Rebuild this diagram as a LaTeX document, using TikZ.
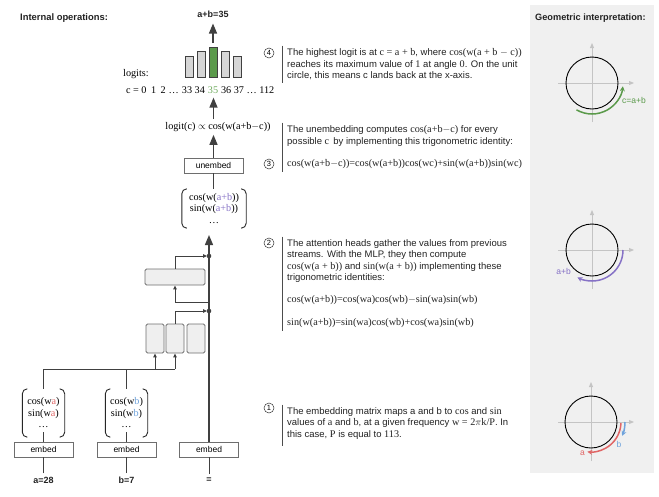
\documentclass[tikz,border=0pt]{standalone}
\usepackage{fontspec}
\setmainfont{Liberation Serif}
\newfontfamily\ls{Liberation Sans}
\usetikzlibrary{arrows.meta}
\definecolor{dk}{HTML}{404040}
\definecolor{boxc}{HTML}{6E6E6E}
\definecolor{boxf}{HTML}{EFEFEF}
\definecolor{barf}{HTML}{D6D6D6}
\definecolor{grn}{HTML}{5B9A4B}
\definecolor{grnt}{HTML}{6DAA5C}
\definecolor{pur}{HTML}{8672C6}
\definecolor{redc}{HTML}{E06666}
\definecolor{blu}{HTML}{6FA3DC}
\definecolor{axc}{HTML}{C4C4C4}
\definecolor{panel}{HTML}{F0F0F0}
\definecolor{txt}{HTML}{222222}
\newcommand\srf{\rmfamily\fontsize{10.2}{11.3}\selectfont}
\tikzset{
 ebox/.style={draw=boxc, line width=0.9pt, fill=white, minimum width=59pt, minimum height=15pt, inner sep=0pt, font=\ls\fontsize{8.5}{10}\selectfont},
 hbox/.style={draw=boxc, fill=boxf, rounded corners=1.5pt, line width=0.9pt, inner sep=0pt},
 thinl/.style={draw=dk, line width=1pt},
 mainl/.style={draw=dk, line width=1.4pt},
 bigarrow/.style={-{Triangle[length=10pt,width=8pt]}},
 smallarrow/.style={-{Triangle[length=4pt,width=3.5pt]}},
 desc/.style={anchor=north west, align=left, inner sep=0pt, font=\ls\fontsize{9.5}{11.3}\selectfont, text=txt},
 ser/.style={font=\fontsize{10.2}{11}\selectfont},
 vec/.style={align=center, inner sep=0pt, font=\fontsize{10.2}{11.5}\selectfont},
 bar/.style={draw=dk, line width=0.9pt, fill=barf, minimum width=8pt, inner sep=0pt, anchor=south},
 circnum/.style={circle, draw=black!80, line width=0.5pt, inner sep=0pt, minimum size=10pt, font=\ls\fontsize{7.5}{8}\selectfont},
 vline/.style={draw=black!70, line width=0.8pt},
 axis/.style={draw=axc, line width=0.9pt, -{Triangle[length=5pt,width=4pt]}},
 brk/.style={draw=black!85, line width=0.9pt, rounded corners=5pt},
 bold/.style={font=\ls\bfseries\fontsize{9}{10}\selectfont, text=txt},
 arcarrow/.style={line width=1.5pt, -{Stealth[length=5pt,width=5pt]}},
}
\newcommand\vbrk[1]{%
 \draw[brk] ([xshift=5pt]#1.north west) -- (#1.north west) -- (#1.south west) -- ([xshift=5pt]#1.south west);
 \draw[brk] ([xshift=-5pt]#1.north east) -- (#1.north east) -- (#1.south east) -- ([xshift=-5pt]#1.south east);}
\begin{document}
\begin{tikzpicture}[x=1pt,y=-1pt]
\useasboundingbox (0,0) rectangle (659,496);
% right panel
\fill[panel] (530,5) rectangle (654,473);
\node[bold, font=\ls\bfseries\fontsize{9.2}{10}\selectfont, anchor=west, inner sep=0pt] (gi) at (535,18) {Geometric interpretation:};
\node[bold, font=\ls\bfseries\fontsize{9.4}{10}\selectfont, anchor=west, inner sep=0pt] (io) at (20,18) {Internal operations:};

% circle 1
\begin{scope}[shift={(592,83)},y=1pt]
 \draw[axis] (-34,0) -- (42,0);
 \draw[axis] (0,-39) -- (0,40);
 \draw[line width=0.9pt, black] (0,0) circle[radius=26];
 \draw[arcarrow, grn] (-120:31) arc[start angle=-120, end angle=-6, radius=31];
 \node[text=grn, font=\ls\fontsize{8.5}{10}\selectfont, anchor=west, inner sep=0pt] (l1) at (30,-17) {c=a+b};
\end{scope}
% circle 2
\begin{scope}[shift={(592,250)},y=1pt]
 \draw[axis] (-34,0) -- (42,0);
 \draw[axis] (0,-39) -- (0,40);
 \draw[line width=0.9pt, black] (0,0) circle[radius=26];
 \draw[arcarrow, pur] (0:31) arc[start angle=0, end angle=-118, radius=31];
 \node[text=pur, font=\ls\fontsize{8.5}{10}\selectfont, anchor=east, inner sep=0pt] (l2) at (-21,-21) {a+b};
\end{scope}
% circle 3
\begin{scope}[shift={(591,422)},y=1pt]
 \draw[axis] (-33,0) -- (43,0);
 \draw[axis] (0,-39) -- (0,40);
 \draw[line width=0.9pt, black] (0,0) circle[radius=26];
 \draw[arcarrow, redc] (-2:30) arc[start angle=-2, end angle=-97, radius=30];
 \draw[arcarrow, blu] (0:34) arc[start angle=0, end angle=-24, radius=34];
 \node[text=redc, font=\ls\fontsize{8.5}{10}\selectfont, anchor=east, inner sep=0pt] (l3) at (-6,-31) {a};
 \node[text=blu, font=\ls\fontsize{8.5}{10}\selectfont, inner sep=0pt] (l4) at (28,-22) {b};
\end{scope}

% embeds and inputs
\node[ebox] (ea) at (43.5,449.5) {embed};
\node[ebox] (eb) at (126.5,449.5) {embed};
\node[ebox] (ee) at (209,449.5) {embed};
\node[bold] (la) at (43.5,480) {a=28};
\node[bold] (lb) at (126.5,480) {b=7};
\node[bold] (le) at (209,480) {=};
\draw[thinl] (la.north) -- (ea.south);
\draw[thinl] (lb.north) -- (eb.south);
\draw[thinl] (le.north) -- (ee.south);

% embedding vectors
\node[vec, minimum width=42pt, minimum height=48pt] (va) at (43.5,413) {cos(w\textcolor{redc}{a})\\sin(w\textcolor{redc}{a})\\\dots};
\node[vec, minimum width=42pt, minimum height=48pt] (vb) at (126.5,413) {cos(w\textcolor{blu}{b})\\sin(w\textcolor{blu}{b})\\\dots};
\vbrk{va}
\vbrk{vb}
\draw[thinl] (ea.north) -- ([yshift=5pt]va.south);
\draw[thinl] (eb.north) -- ([yshift=5pt]vb.south);

% attention heads & MLP
\node[hbox, minimum width=18pt, minimum height=29pt] (h1) at (155,338.5) {};
\node[hbox, minimum width=18pt, minimum height=29pt] (h2) at (175,338.5) {};
\node[hbox, minimum width=18pt, minimum height=29pt] (h3) at (196,338.5) {};
\node[hbox, minimum width=60pt, minimum height=16pt] (mlp) at (175,277) {};
\coordinate (hr) at (175,369);
\draw[thinl] (va.north) -- (va.north |- hr) -- (hr);
\draw[thinl] (vb.north) -- (vb.north |- hr);
\draw[thinl, smallarrow] (h1.south |- hr) -- (h1.south);
\draw[thinl, smallarrow] (hr) -- (h2.south);

% residual stream
\coordinate (tipm) at (209,235);
\coordinate (d1) at (209,311);
\coordinate (d2) at (209,256);
\coordinate (m1) at (209,302);
\draw[mainl, bigarrow] (ee.north) -- (tipm);
\fill[dk] (d1) circle[radius=2.3];
\fill[dk] (d2) circle[radius=2.3];
\draw[thinl, smallarrow, shorten >=2pt] (h2.north) |- (d1);
\draw[thinl, smallarrow] (m1) -| (mlp.south);
\draw[thinl, smallarrow, shorten >=2pt] (mlp.north) |- (d2);

% a+b vector and unembed
\node[vec, minimum width=64pt, minimum height=39pt] (vab) at (214,208.5) {cos(w(\textcolor{pur}{a+b}))\\sin(w(\textcolor{pur}{a+b}))\\\dots};
\vbrk{vab}
\node[ebox] (un) at (213.5,165.5) {unembed};
\draw[mainl] (un.south |- vab.north) -- (un.south);
\node[ser, inner sep=0pt] (lg) at (218,127) {logit(c) $\propto$ cos(w(a+b$-$c))};
\draw[mainl, bigarrow, shorten >=3pt] (un.north) -- (un.north |- lg.south);

% logits row
\node[ser, inner sep=0pt, text=grnt] (n35) at (213,90) {35};
\node[ser, inner sep=0pt, anchor=east] (nl) at ([xshift=-2.6pt]n35.west) {c = 0\hspace{4.5pt}1\hspace{4.5pt}2\hspace{3pt}\dots\hspace{3pt}33 34};
\node[ser, inner sep=0pt, anchor=west] (nr) at ([xshift=2.6pt]n35.east) {36 37 \dots\ 112};
\node[ser, inner sep=0pt, anchor=west] (lt) at (123,74) {logits:};
\draw[mainl, bigarrow, shorten <=3pt, shorten >=4pt] (un.north |- lg.north) -- (un.north |- n35.south);

% bars
\node[bar, minimum height=21pt] (b1) at (189.5,78) {};
\node[bar, minimum height=26pt] (b2) at (201,78) {};
\node[bar, minimum height=30pt, fill=grn] (b3) at (213,78) {};
\node[bar, minimum height=26pt] (b4) at (225,78) {};
\node[bar, minimum height=21pt] (b5) at (237,78) {};
\node[bold, inner sep=0pt] (ab) at (213,14) {a+b=35};
\draw[mainl, bigarrow, shorten <=4pt, shorten >=6pt] (b3.north) -- (ab.south);

% step 4
\node[circnum] (c4) at (269,53) {4};
\node[desc] (t4) at (287,48.5) {The highest logit is at {\srf c = a + b}, where {\srf cos(w(a + b $-$ c))}\\reaches its maximum value of {\srf 1} at angle {\srf 0}. On the unit\\circle, this means c lands back at the x-axis.};
\draw[vline] ([shift={(-5pt,3pt)}]t4.north west) -- ([shift={(-5pt,-3pt)}]t4.south west);

% step 3
\node[circnum] (c3) at (269,164) {3};
\node[desc] (t3) at (287,125.5) {The unembedding computes {\srf cos(a+b$-$c)} for every\\possible {\srf c}\, by implementing this trigonometric identity:\\[11pt]{\srf cos(w(a+b$-$c))=cos(w(a+b))cos(wc)+sin(w(a+b))sin(wc)}};
\draw[vline] ([shift={(-5pt,3pt)}]t3.north west) -- ([shift={(-5pt,-3pt)}]t3.south west);

% step 2
\node[circnum] (c2) at (269,243) {2};
\node[desc] (t2) at (287,239.5) {The attention heads gather the values from previous\\streams. With the MLP, they then compute\\{\srf cos(w(a + b))} and {\srf sin(w(a + b))} implementing these\\trigonometric identities:\\[11pt]{\srf cos(w(a+b))=cos(wa)cos(wb)$-$sin(wa)sin(wb)}\\[11pt]{\srf sin(w(a+b))=sin(wa)cos(wb)+cos(wa)sin(wb)}};
\draw[vline] ([shift={(-5pt,3pt)}]t2.north west) -- ([shift={(-5pt,-4pt)}]t2.south west);

% step 1
\node[circnum] (c1) at (269,408) {1};
\node[desc] (t1) at (287,407.5) {The embedding matrix maps a and b to {\srf cos} and {\srf sin}\\values of {\srf a} and {\srf b}, at a given frequency {\srf w = 2$\pi$k/P}. In\\this case, {\srf P} is equal to {\srf 113}.};
\draw[vline] ([shift={(-5pt,3pt)}]t1.north west) -- ([shift={(-5pt,-7pt)}]t1.south west);
\end{tikzpicture}
\end{document}
